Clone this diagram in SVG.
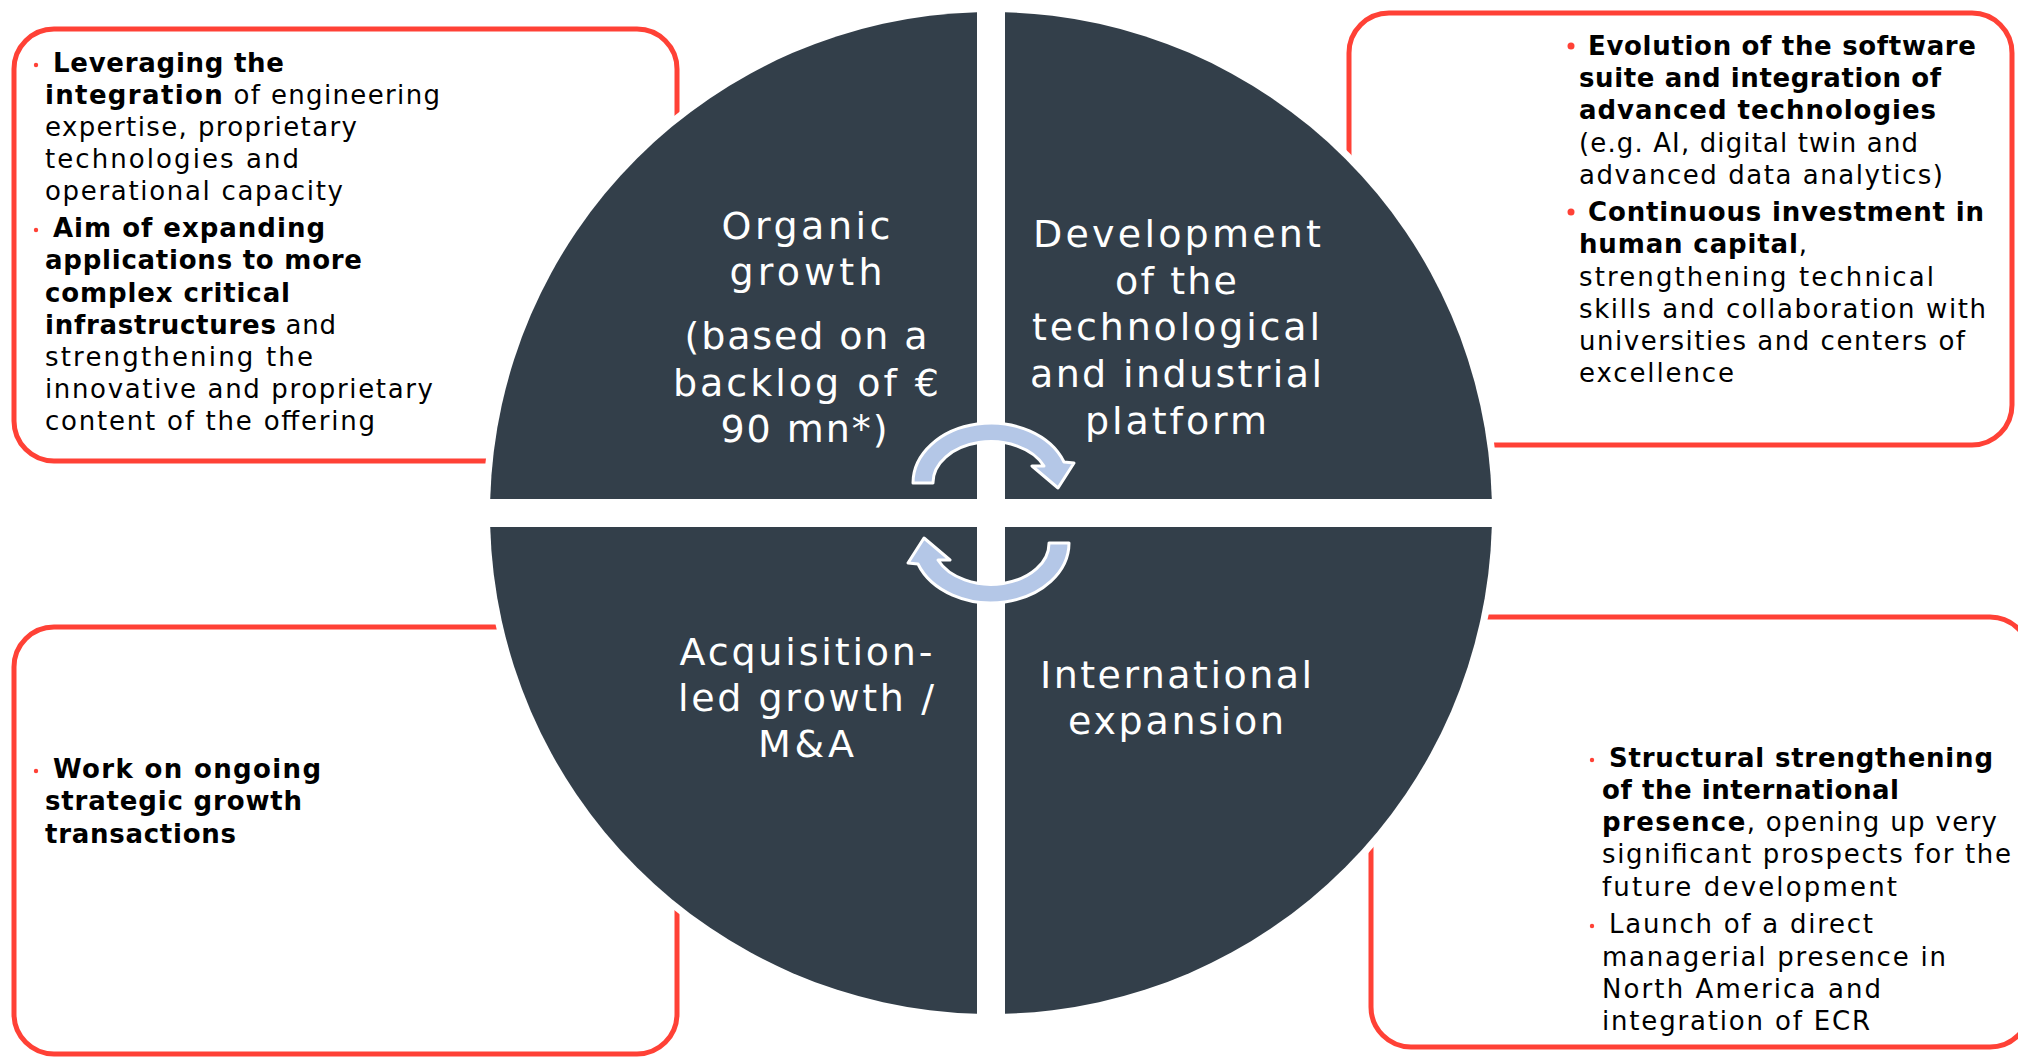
<svg xmlns="http://www.w3.org/2000/svg" width="2018" height="1057" viewBox="0 0 2018 1057">
<style>
.box{fill:#fff;stroke:#FF4136;stroke-width:5}
.q{fill:#333F4A}
.ct{font-family:"DejaVu Sans",sans-serif;font-size:38px;fill:#fff;text-anchor:middle}
.bt{font-family:"DejaVu Sans",sans-serif;font-size:26px;fill:#000}
.b{font-weight:bold}
.dot{fill:#FF4136}
.arrow{fill:#B4C7E7;stroke:#fff;stroke-width:3;stroke-linejoin:round}
</style>
<defs>
<path id="arr" d="M913,483 A78,60 0 0 1 1064,462 L1074,463 L1058,488 L1032,466 L1044,466 A58,41 0 0 0 933,483 Z"/>
</defs>
<rect width="2018" height="1057" fill="#fff"/>

<g id="box-top-left">
<rect class="box" x="14" y="29" width="663" height="432" rx="40"/>
</g>
<g id="box-top-right">
<rect class="box" x="1349" y="13" width="663" height="432" rx="40"/>
</g>
<g id="box-bottom-left">
<rect class="box" x="14" y="627" width="663" height="427" rx="40"/>
</g>
<g id="box-bottom-right">
<rect class="box" x="1371" y="617" width="659" height="430" rx="40"/>
</g>

<circle cx="991" cy="513" r="508" fill="#fff"/>

<g id="q-organic">
<path class="q" d="M977,499 V12.2 A501,501 0 0 0 490.2,499 Z"/>
<text class="ct" x="806" y="239" textLength="169">Organic</text>
<text class="ct" x="806" y="285" textLength="153">growth</text>
<text class="ct" x="806" y="349" textLength="243">(based on a</text>
<text class="ct" x="806" y="396" textLength="266">backlog of €</text>
<text class="ct" x="804" y="442" textLength="167">90 mn*)</text>
</g>
<g id="q-development">
<path class="q" d="M1005,499 V12.2 A501,501 0 0 1 1491.8,499 Z"/>
<text class="ct" x="1177" y="247" textLength="288">Development</text>
<text class="ct" x="1176" y="294" textLength="122">of the</text>
<text class="ct" x="1176" y="340" textLength="288">technological</text>
<text class="ct" x="1176" y="387" textLength="292">and industrial</text>
<text class="ct" x="1176" y="434" textLength="182">platform</text>
</g>
<g id="q-acquisition">
<path class="q" d="M977,527 V1013.8 A501,501 0 0 1 490.2,527 Z"/>
<text class="ct" x="806" y="665" textLength="253">Acquisition-</text>
<text class="ct" x="806" y="711" textLength="256">led growth /</text>
<text class="ct" x="806" y="757" textLength="96">M&amp;A</text>
</g>
<g id="q-international">
<path class="q" d="M1005,527 V1013.8 A501,501 0 0 0 1491.8,527 Z"/>
<text class="ct" x="1176" y="688" textLength="272">International</text>
<text class="ct" x="1176" y="734" textLength="216">expansion</text>
</g>

<g id="connectors">
<use href="#arr" class="arrow"/>
<use href="#arr" class="arrow" transform="rotate(180 991 513)"/>
</g>

<g id="text-top-left">
<circle class="dot" cx="36" cy="65" r="2.2"/>
<circle class="dot" cx="36" cy="230" r="2.2"/>
<text class="bt" x="53" y="72" textLength="231"><tspan class="b">Leveraging the</tspan></text>
<text class="bt" x="45" y="104" textLength="395"><tspan class="b">integration</tspan> of engineering</text>
<text class="bt" x="45" y="136" textLength="312">expertise, proprietary</text>
<text class="bt" x="45" y="168" textLength="254">technologies and</text>
<text class="bt" x="45" y="200" textLength="298">operational capacity</text>
<text class="bt" x="53" y="237" textLength="272"><tspan class="b">Aim of expanding</tspan></text>
<text class="bt" x="45" y="269" textLength="317"><tspan class="b">applications to more</tspan></text>
<text class="bt" x="45" y="302" textLength="245"><tspan class="b">complex critical</tspan></text>
<text class="bt" x="45" y="334" textLength="291"><tspan class="b">infrastructures</tspan> and</text>
<text class="bt" x="45" y="366" textLength="268">strengthening the</text>
<text class="bt" x="45" y="398" textLength="388">innovative and proprietary</text>
<text class="bt" x="45" y="430" textLength="330">content of the offering</text>
</g>

<g id="text-top-right">
<circle class="dot" cx="1571" cy="46" r="3.5"/>
<circle class="dot" cx="1571" cy="212" r="3.5"/>
<text class="bt" x="1588" y="55" textLength="388"><tspan class="b">Evolution of the software</tspan></text>
<text class="bt" x="1579" y="87" textLength="362"><tspan class="b">suite and integration of</tspan></text>
<text class="bt" x="1579" y="119" textLength="357"><tspan class="b">advanced technologies</tspan></text>
<text class="bt" x="1579" y="152" textLength="339">(e.g. AI, digital twin and</text>
<text class="bt" x="1579" y="184" textLength="364">advanced data analytics)</text>
<text class="bt" x="1588" y="221" textLength="396"><tspan class="b">Continuous investment in</tspan></text>
<text class="bt" x="1579" y="253" textLength="228"><tspan class="b">human capital</tspan>,</text>
<text class="bt" x="1579" y="286" textLength="355">strengthening technical</text>
<text class="bt" x="1579" y="318" textLength="407">skills and collaboration with</text>
<text class="bt" x="1579" y="350" textLength="386">universities and centers of</text>
<text class="bt" x="1579" y="382" textLength="155">excellence</text>
</g>

<g id="text-bottom-left">
<circle class="dot" cx="36" cy="771" r="2.2"/>
<text class="bt" x="53" y="778" textLength="268"><tspan class="b">Work on ongoing</tspan></text>
<text class="bt" x="45" y="810" textLength="257"><tspan class="b">strategic growth</tspan></text>
<text class="bt" x="45" y="843" textLength="191"><tspan class="b">transactions</tspan></text>
</g>

<g id="text-bottom-right">
<circle class="dot" cx="1592" cy="760" r="2.2"/>
<circle class="dot" cx="1592" cy="926" r="2.2"/>
<text class="bt" x="1609" y="767" textLength="384"><tspan class="b">Structural strengthening</tspan></text>
<text class="bt" x="1602" y="799" textLength="297"><tspan class="b">of the international</tspan></text>
<text class="bt" x="1602" y="831" textLength="395"><tspan class="b">presence</tspan>, opening up very</text>
<text class="bt" x="1602" y="863" textLength="409">significant prospects for the</text>
<text class="bt" x="1602" y="896" textLength="295">future development</text>
<text class="bt" x="1609" y="933" textLength="264">Launch of a direct</text>
<text class="bt" x="1602" y="966" textLength="344">managerial presence in</text>
<text class="bt" x="1602" y="998" textLength="279">North America and</text>
<text class="bt" x="1602" y="1030" textLength="268">integration of ECR</text>
</g>
</svg>
